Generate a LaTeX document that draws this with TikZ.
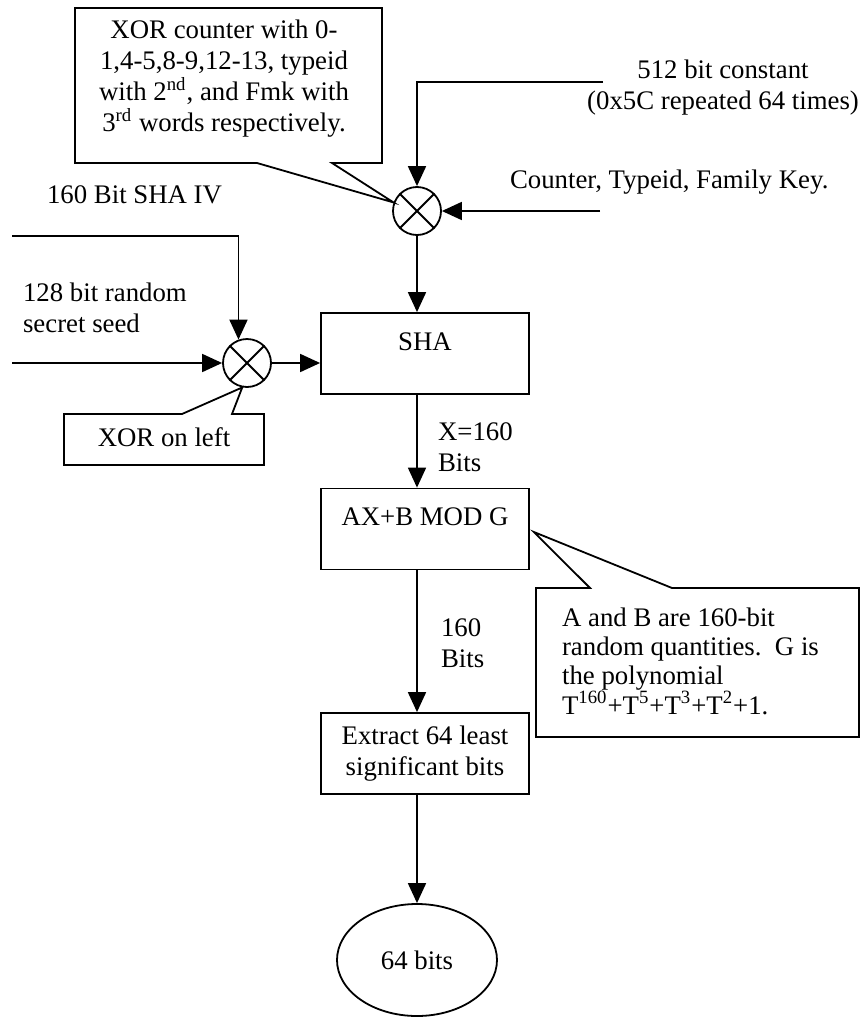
\documentclass[tikz,border=0pt]{standalone}
\usepackage{fontspec}
\setmainfont{Liberation Serif}
\usetikzlibrary{arrows.meta,shapes.geometric}

\tikzset{
    every node/.style={font=\fontsize{13.4}{15.5}\selectfont},
    line/.style={line width=0.9pt},
    arr/.style={line width=0.9pt, -{Triangle[length=10pt,width=9pt]}},
    procbox/.style={draw, line width=0.9pt, minimum width=104pt, minimum height=40.5pt, inner sep=0pt},
    xorgate/.style={draw, circle, line width=0.9pt, minimum size=24pt, inner sep=0pt},
    callout/.style={draw, line width=0.9pt, line join=miter}
}

\begin{document}
\begin{tikzpicture}[x=0.5pt, y=-0.5pt]
    \useasboundingbox (0,0) rectangle (861,1017);

    % XOR gates
    \node[xorgate] (xt) at (417,211) {};
    \node[xorgate] (xl) at (247,363) {};
    \foreach \g in {xt,xl} {
        \draw[line] (\g.45) -- (\g.225);
        \draw[line] (\g.135) -- (\g.315);
    }

    % Processing steps
    \node[procbox, text height=9pt, text depth=12pt] (sha) at (425,353.5) {SHA};
    \node[procbox, text height=9pt, text depth=12.5pt] (ax) at (425,529) {AX+B MOD G};
    \node[procbox, align=center] (ext) at (425,753.5) {Extract 64 least\\significant bits};
    \node[draw, ellipse, line width=0.9pt, minimum width=80pt, minimum height=56pt, inner sep=0pt] (out) at (417,960) {64 bits};

    % Inputs
    \coordinate (constin) at (603,82);
    \coordinate (keyin) at (600,211);
    \coordinate (ivin) at (12,236);
    \coordinate (seedin) at (12,363);
    \node[align=center] (constlbl) at (723,88) {512 bit constant\\(0x5C repeated 64 times)};
    \node[anchor=west] (keylbl) at (503,182) {Counter, Typeid, Family Key.};
    \node[anchor=west] (ivlbl) at (40,195) {160 Bit SHA IV};
    \node[anchor=west, align=left] (seedlbl) at (16,308) {128 bit random\\secret seed};

    % Connectors
    \draw[arr] (constin) -| (xt.north);
    \draw[arr] (keyin) -- (xt.east);
    \draw[arr] (xt.south) -- (xt.south |- sha.north);
    \draw[arr] (ivin) -| (xl.110);
    \draw[arr] (seedin) -- (xl.west);
    \draw[arr] (xl.east) -- (xl.east -| sha.west);
    \draw[arr] (sha.south -| xt.south) -- (ax.north -| xt.south);
    \draw[arr] (ax.south -| xt.south) -- (ext.north -| xt.south);
    \draw[arr] (ext.south -| xt.south) -- (out.north);
    \node[anchor=west, align=left] (lbx) at (431,447) {X=160\\Bits};
    \node[anchor=west, align=left] (lb160) at (434,643) {160\\Bits};

    % Callouts
    \node[align=center] (note1) at (224,79) {XOR counter with 0-\\1,4-5,8-9,12-13, typeid\\with 2\textsuperscript{nd}, and Fmk with\\3\textsuperscript{rd} words respectively.};
    \draw[callout] (75,8) -- (382,8) -- (382,163) -- (332,163) -- (xt.160) -- (257,163) -- (75,163) -- cycle;

    \node (note2) at (164,437) {XOR on left};
    \draw[callout] (64,414) -- (182,414) -- (xl.259) -- (232,414) -- (264,414) -- (264,465) -- (64,465) -- cycle;

    \coordinate (tipab) at ([shift={(2pt,-1.5pt)}]ax.east);
    \node[anchor=west, align=left, font=\fontsize{13.4}{14.7}\selectfont] (note3) at (555,661) {A and B are 160-bit\\random quantities.\ \ G is\\the polynomial\\T\textsuperscript{160}+T\textsuperscript{5}+T\textsuperscript{3}+T\textsuperscript{2}+1.};
    \draw[callout] (536,588) -- (590,588) -- (tipab) -- (672,588) -- (859,588) -- (859,737) -- (536,737) -- cycle;
\end{tikzpicture}
\end{document}
